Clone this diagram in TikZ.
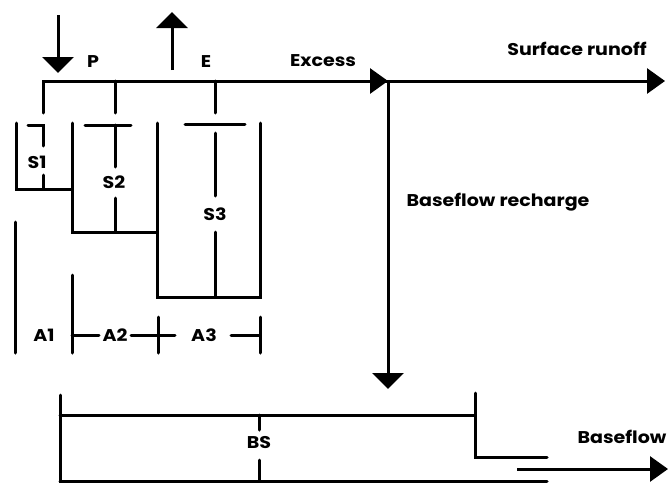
\documentclass[tikz,border=0pt]{standalone}
\usepackage{fontspec}
\setmainfont{Poppins}
\usetikzlibrary{arrows.meta}
\newcommand{\wtxt}[1]{\scalebox{1.12}[1]{#1}}
\begin{document}
\begin{tikzpicture}[x=1pt,y=-1pt,
  wall/.style={line width=3pt,line cap=round,line join=miter},
  flow/.style={line width=3pt,-{Triangle[length=16pt,width=31pt]}},
  flowh/.style={line width=3pt,-{Triangle[length=18pt,width=25pt]}},
  lab/.style={font=\fontsize{17}{17}\selectfont\bfseries,inner sep=0pt}]
\useasboundingbox (0,0) rectangle (669,482);
% coordinates
\coordinate (topL) at (43,81);
\coordinate (exc) at (388,81);
\coordinate (sro) at (665,81);
\coordinate (rch) at (388,389);
% precipitation and evaporation
\coordinate (p0) at (58,15);   \coordinate (p1) at (58,73);
\coordinate (e0) at (172,70);  \coordinate (e1) at (172,12);
\draw[flow] (p0) -- (p1);
\draw[flow] (e0) -- (e1);
\node[lab] (P) at (93,62) {\wtxt{P}};
\node[lab] (E) at (206,62) {\wtxt{E}};
% excess line
\draw[wall] (43,113) -- (topL) -- (exc);
\draw[flowh] (topL) -- (exc);
\draw[flowh] (exc) -- (sro);
\draw[flow] (exc) -- (rch);
\node[lab] (Ex) at (323,61) {\wtxt{Excess}};
\node[lab] (SR) at (577,49) {\wtxt{Surface runoff}};
\node[lab] (BR) at (498,202) {\wtxt{Baseflow recharge}};
\draw[wall] (115,81) -- (115,113);
\draw[wall] (215,81) -- (215,113);
% stores
\draw[wall] (16,123) -- (16,189) -- (72,189);
\draw[wall] (72,123) -- (72,232) -- (157,232);
\draw[wall] (157,123) -- (157,297) -- (260,297) -- (260,123);
% S1
\draw[wall] (28,125) -- (43,125) -- (43,146);
\draw[wall] (43,175) -- (43,189);
\node[lab] (S1) at (37,162) {\wtxt{S1}};
% S2
\draw[wall] (85,125) -- (131,125);
\draw[wall] (115,125) -- (115,167);
\draw[wall] (115,198) -- (115,232);
\node[lab] (S2) at (114,182) {\wtxt{S2}};
% S3
\draw[wall] (185,124) -- (245,124);
\draw[wall] (215,133) -- (215,196);
\draw[wall] (215,232) -- (215,297);
\node[lab] (S3) at (215,214) {\wtxt{S3}};
% areas
\draw[wall] (15,222) -- (15,353);
\draw[wall] (72,275) -- (72,353);
\draw[wall] (72,335) -- (99,335);
\draw[wall] (131,335) -- (175,335);
\draw[wall] (158,317) -- (158,353);
\draw[wall] (231,335) -- (260,335);
\draw[wall] (260,317) -- (260,353);
\node[lab] (A1) at (44,335) {\wtxt{A1}};
\node[lab] (A2) at (115,335) {\wtxt{A2}};
\node[lab] (A3) at (204,335) {\wtxt{A3}};
% baseflow store
\draw[wall] (60,395) -- (60,484);
\draw[wall] (60,415) -- (475,415);
\draw[wall] (475,393) -- (475,457) -- (547,457);
\draw[wall] (60,481) -- (547,481);
\draw[wall] (259,415) -- (259,430);
\draw[wall] (259,460) -- (259,484);
\node[lab] (BS) at (259,443) {\wtxt{BS}};
\coordinate (b0) at (517,469); \coordinate (b1) at (668,469);
\draw[flowh] (b0) -- (b1);
\node[lab] (BF) at (622,437) {\wtxt{Baseflow}};
\end{tikzpicture}
\end{document}
